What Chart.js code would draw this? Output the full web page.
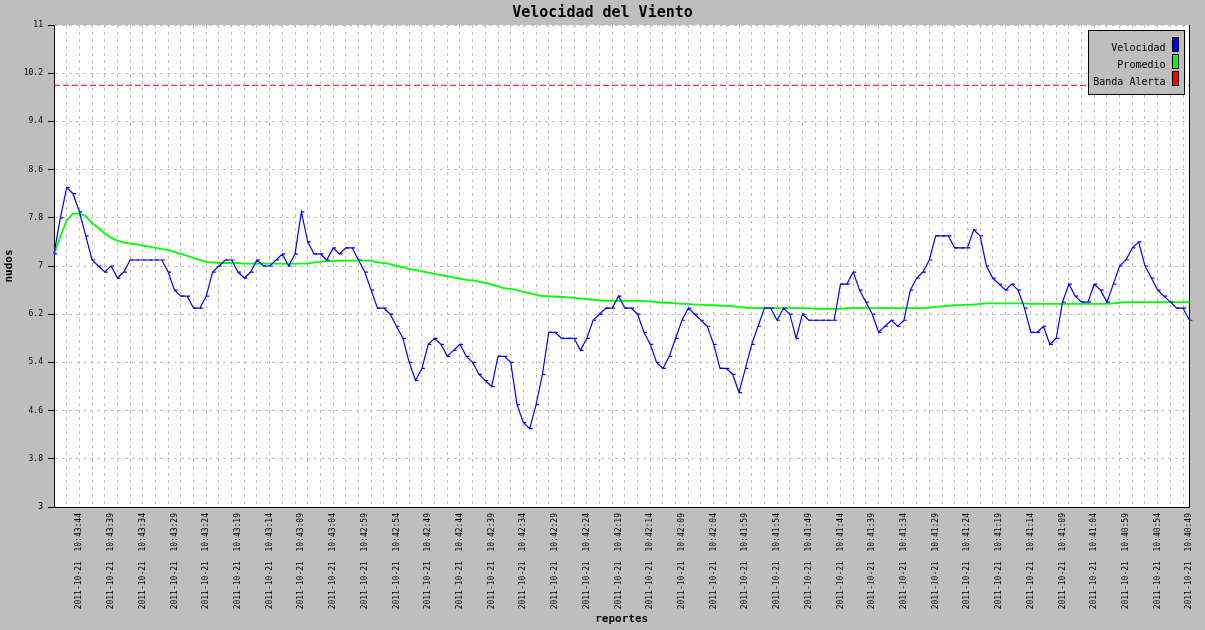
<!DOCTYPE html>
<html>
<head>
<meta charset="utf-8">
<script src="https://cdn.jsdelivr.net/npm/chart.js@4.4.1/dist/chart.umd.min.js"></script>
<style>
html,body{margin:0;padding:0;background:#bebebe;}
canvas{display:block;}
</style>
</head>
<body>
<canvas id="c" width="1205" height="630"></canvas>
<script>
// ---- data ----
const reportDate = '2011-10-21';

const reportTimes = [
'10:43:48','10:43:47','10:43:46','10:43:45','10:43:44','10:43:43','10:43:42','10:43:41','10:43:40',
'10:43:39','10:43:38','10:43:37','10:43:36','10:43:35','10:43:34','10:43:33','10:43:32','10:43:31','10:43:30',
'10:43:29','10:43:28','10:43:27','10:43:26','10:43:25','10:43:24','10:43:23','10:43:22','10:43:21','10:43:20',
'10:43:19','10:43:18','10:43:17','10:43:16','10:43:15','10:43:14','10:43:13','10:43:12','10:43:11','10:43:10',
'10:43:09','10:43:08','10:43:07','10:43:06','10:43:05','10:43:04','10:43:03','10:43:02','10:43:01','10:43:00',
'10:42:59','10:42:58','10:42:57','10:42:56','10:42:55','10:42:54','10:42:53','10:42:52','10:42:51','10:42:50',
'10:42:49','10:42:48','10:42:47','10:42:46','10:42:45','10:42:44','10:42:43','10:42:42','10:42:41','10:42:40',
'10:42:39','10:42:38','10:42:37','10:42:36','10:42:35','10:42:34','10:42:33','10:42:32','10:42:31','10:42:30',
'10:42:29','10:42:28','10:42:27','10:42:26','10:42:25','10:42:24','10:42:23','10:42:22','10:42:21','10:42:20',
'10:42:19','10:42:18','10:42:17','10:42:16','10:42:15','10:42:14','10:42:13','10:42:12','10:42:11','10:42:10',
'10:42:09','10:42:08','10:42:07','10:42:06','10:42:05','10:42:04','10:42:03','10:42:02','10:42:01','10:42:00',
'10:41:59','10:41:58','10:41:57','10:41:56','10:41:55','10:41:54','10:41:53','10:41:52','10:41:51','10:41:50',
'10:41:49','10:41:48','10:41:47','10:41:46','10:41:45','10:41:44','10:41:43','10:41:42','10:41:41','10:41:40',
'10:41:39','10:41:38','10:41:37','10:41:36','10:41:35','10:41:34','10:41:33','10:41:32','10:41:31','10:41:30',
'10:41:29','10:41:28','10:41:27','10:41:26','10:41:25','10:41:24','10:41:23','10:41:22','10:41:21','10:41:20',
'10:41:19','10:41:18','10:41:17','10:41:16','10:41:15','10:41:14','10:41:13','10:41:12','10:41:11','10:41:10',
'10:41:09','10:41:08','10:41:07','10:41:06','10:41:05','10:41:04','10:41:03','10:41:02','10:41:01','10:41:00',
'10:40:59','10:40:58','10:40:57','10:40:56','10:40:55','10:40:54','10:40:53','10:40:52','10:40:51','10:40:50',
'10:40:49'
];

const tickTimes = [
'10:43:44','10:43:39','10:43:34','10:43:29','10:43:24','10:43:19','10:43:14','10:43:09','10:43:04',
'10:42:59','10:42:54','10:42:49','10:42:44','10:42:39','10:42:34','10:42:29','10:42:24','10:42:19','10:42:14','10:42:09','10:42:04',
'10:41:59','10:41:54','10:41:49','10:41:44','10:41:39','10:41:34','10:41:29','10:41:24','10:41:19','10:41:14','10:41:09','10:41:04',
'10:40:59','10:40:54','10:40:49'
];

const velocidad = [
7.2, 7.8, 8.3, 8.2, 7.9, 7.5, 7.1, 7.0, 6.9, 7.0,
6.8, 6.9, 7.1, 7.1, 7.1, 7.1, 7.1, 7.1, 6.9, 6.6,
6.5, 6.5, 6.3, 6.3, 6.5, 6.9, 7.0, 7.1, 7.1, 6.9,
6.8, 6.9, 7.1, 7.0, 7.0, 7.1, 7.2, 7.0, 7.2, 7.9,
7.4, 7.2, 7.2, 7.1, 7.3, 7.2, 7.3, 7.3, 7.1, 6.9,
6.6, 6.3, 6.3, 6.2, 6.0, 5.8, 5.4, 5.1, 5.3, 5.7,
5.8, 5.7, 5.5, 5.6, 5.7, 5.5, 5.4, 5.2, 5.1, 5.0,
5.5, 5.5, 5.4, 4.7, 4.4, 4.3, 4.7, 5.2, 5.9, 5.9,
5.8, 5.8, 5.8, 5.6, 5.8, 6.1, 6.2, 6.3, 6.3, 6.5,
6.3, 6.3, 6.2, 5.9, 5.7, 5.4, 5.3, 5.5, 5.8, 6.1,
6.3, 6.2, 6.1, 6.0, 5.7, 5.3, 5.3, 5.2, 4.9, 5.3,
5.7, 6.0, 6.3, 6.3, 6.1, 6.3, 6.2, 5.8, 6.2, 6.1,
6.1, 6.1, 6.1, 6.1, 6.7, 6.7, 6.9, 6.6, 6.4, 6.2,
5.9, 6.0, 6.1, 6.0, 6.1, 6.6, 6.8, 6.9, 7.1, 7.5,
7.5, 7.5, 7.3, 7.3, 7.3, 7.6, 7.5, 7.0, 6.8, 6.7,
6.6, 6.7, 6.6, 6.3, 5.9, 5.9, 6.0, 5.7, 5.8, 6.4,
6.7, 6.5, 6.4, 6.4, 6.7, 6.6, 6.4, 6.7, 7.0, 7.1,
7.3, 7.4, 7.0, 6.8, 6.6, 6.5, 6.4, 6.3, 6.3, 6.1
];

const promedio = [
7.19, 7.49, 7.76, 7.87, 7.87, 7.83, 7.71, 7.63, 7.54, 7.47,
7.42, 7.39, 7.37, 7.36, 7.34, 7.32, 7.30, 7.28, 7.27, 7.23,
7.20, 7.17, 7.13, 7.10, 7.07, 7.06, 7.05, 7.05, 7.05, 7.05,
7.04, 7.04, 7.04, 7.04, 7.04, 7.04, 7.04, 7.04, 7.04, 7.04,
7.04, 7.06, 7.07, 7.08, 7.08, 7.09, 7.09, 7.09, 7.09, 7.09,
7.09, 7.06, 7.05, 7.03, 7.00, 6.98, 6.95, 6.93, 6.91, 6.89,
6.87, 6.85, 6.83, 6.81, 6.79, 6.77, 6.76, 6.74, 6.72, 6.69,
6.66, 6.63, 6.62, 6.60, 6.57, 6.55, 6.52, 6.50, 6.50, 6.49,
6.49, 6.48, 6.47, 6.46, 6.45, 6.44, 6.43, 6.42, 6.42, 6.42,
6.42, 6.42, 6.42, 6.42, 6.41, 6.40, 6.39, 6.39, 6.38, 6.37,
6.37, 6.36, 6.36, 6.35, 6.35, 6.34, 6.34, 6.33, 6.32, 6.31,
6.30, 6.30, 6.30, 6.30, 6.30, 6.30, 6.30, 6.30, 6.30, 6.30,
6.29, 6.29, 6.29, 6.29, 6.29, 6.30, 6.30, 6.30, 6.30, 6.30,
6.30, 6.30, 6.30, 6.30, 6.30, 6.30, 6.30, 6.30, 6.31, 6.32,
6.33, 6.34, 6.35, 6.35, 6.36, 6.36, 6.37, 6.38, 6.38, 6.38,
6.38, 6.38, 6.38, 6.38, 6.37, 6.37, 6.37, 6.37, 6.37, 6.37,
6.37, 6.37, 6.37, 6.37, 6.37, 6.37, 6.37, 6.38, 6.39, 6.40,
6.40, 6.40, 6.40, 6.40, 6.40, 6.40, 6.40, 6.40, 6.40, 6.40
];

const bandaAlerta = 10;

const yTicks = [3, 3.8, 4.6, 5.4, 6.2, 7, 7.8, 8.6, 9.4, 10.2, 11];

const seriesNames = ['Velocidad', 'Promedio', 'Banda Alerta'];

// ---- build ----
const labels = reportTimes.map(t => reportDate + '  ' + t);
const tickSet = new Set(tickTimes);
const MONO = '"DejaVu Sans Mono", "Liberation Mono", monospace';
const BG = '#bebebe';

const framePlugin = {
  id: 'frame',
  beforeDraw(chart) {
    const {ctx, chartArea: a} = chart;
    ctx.save();
    ctx.fillStyle = BG;
    ctx.fillRect(0, 0, chart.width, chart.height);
    ctx.fillStyle = '#ffffff';
    ctx.fillRect(a.left, a.top, a.right - a.left, a.bottom - a.top);
    ctx.restore();
  },
  afterDraw(chart) {
    const {ctx, chartArea: a} = chart;
    ctx.save();
    // legend box
    const bx = Math.round(a.right) - 100.5, by = Math.round(a.top) + 5.5, bw = 96, bh = 64;
    ctx.fillStyle = BG;
    ctx.fillRect(bx, by, bw, bh);
    ctx.strokeStyle = '#000';
    ctx.lineWidth = 1;
    ctx.strokeRect(bx, by, bw, bh);
    ctx.font = '10px ' + MONO;
    ctx.textAlign = 'right';
    ctx.textBaseline = 'alphabetic';
    chart.data.datasets.forEach((d, i) => {
      const rowTop = Math.round(a.top) + 12 + i * 17;
      ctx.fillStyle = '#000';
      ctx.fillText(d.label, bx + 77, rowTop + 13.5);
      ctx.fillStyle = d.backgroundColor;
      ctx.fillRect(bx + 84, rowTop + 0.5, 6, 14);
      ctx.strokeStyle = '#000';
      ctx.strokeRect(bx + 84, rowTop + 0.5, 6, 14);
    });
    ctx.restore();
  }
};

new Chart(document.getElementById('c'), {
  type: 'line',
  data: {
    labels: labels,
    datasets: [
      {
        label: seriesNames[0],
        data: velocidad,
        borderColor: '#0000ff',
        backgroundColor: '#0000ff',
        borderWidth: 1.2,
        tension: 0,
        pointStyle: 'dash',
        pointRadius: 3,
        pointBorderColor: '#0000ff',
        pointBorderWidth: 1.2,
        fill: false
      },
      {
        label: seriesNames[1],
        data: promedio,
        borderColor: '#00ff00',
        backgroundColor: '#00ff00',
        borderWidth: 1.8,
        tension: 0,
        pointRadius: 0,
        fill: false
      },
      {
        label: seriesNames[2],
        data: [{x: labels[0], y: bandaAlerta}, {x: labels[labels.length - 1], y: bandaAlerta}],
        borderColor: '#e00000',
        backgroundColor: '#ff0000',
        borderWidth: 1.2,
        borderDash: [6, 3],
        tension: 0,
        pointRadius: 0,
        fill: false
      }
    ]
  },
  options: {
    responsive: false,
    animation: false,
    devicePixelRatio: 1,
    events: [],
    layout: { padding: { left: 0, right: 0, top: 0, bottom: 0 } },
    plugins: {
      legend: { display: false },
      tooltip: { enabled: false },
      title: {
        display: true,
        text: 'Velocidad del Viento',
        color: '#000',
        font: { family: MONO, size: 15, weight: 'bold', lineHeight: 1.2 },
        padding: { top: 4, bottom: 3 }
      }
    },
    scales: {
      x: {
        type: 'category',
        offset: false,
        afterFit: s => { s.height = 123; },
        grid: {
          color: c => (c.index % 2 === 0 ? '#c0c0c0' : 'rgba(0,0,0,0)'),
          lineWidth: 1,
          drawTicks: false
        },
        border: { display: true, color: '#000', width: 1, dash: [3, 4] },
        ticks: {
          autoSkip: false,
          minRotation: 90,
          maxRotation: 90,
          padding: 6,
          color: '#000',
          font: { family: MONO, size: 8 },
          callback: (v, i) => (tickSet.has(reportTimes[i]) ? labels[i] : '')
        },
        title: {
          display: true,
          text: 'reportes',
          color: '#000',
          font: { family: MONO, size: 11, weight: 'bold', lineHeight: 1.2 },
          padding: { top: 0, bottom: 4 }
        }
      },
      y: {
        type: 'linear',
        min: 3,
        max: 11,
        afterBuildTicks: s => { s.ticks = yTicks.map(v => ({ value: v })); },
        afterFit: s => { s.width = 54; },
        grid: {
          color: '#c0c0c0',
          lineWidth: 1,
          drawTicks: true,
          tickLength: 6,
          tickColor: '#000',
          tickBorderDash: []
        },
        border: { display: true, color: '#000', width: 1, dash: [3, 4] },
        ticks: {
          color: '#000',
          padding: 5,
          font: { family: MONO, size: 8 },
          callback: v => String(Math.round(v * 10) / 10)
        },
        title: {
          display: true,
          text: 'nudos',
          color: '#000',
          font: { family: MONO, size: 11, weight: 'bold', lineHeight: 1.2 },
          padding: { top: 3, bottom: 0 }
        }
      },
      yRight: {
        type: 'linear',
        position: 'right',
        display: true,
        min: 3,
        max: 11,
        afterFit: s => { s.width = 15; },
        grid: { display: false, drawTicks: false },
        ticks: { display: false },
        border: { display: true, color: '#000', width: 1 }
      }
    }
  },
  plugins: [framePlugin]
});
</script>
</body>
</html>
